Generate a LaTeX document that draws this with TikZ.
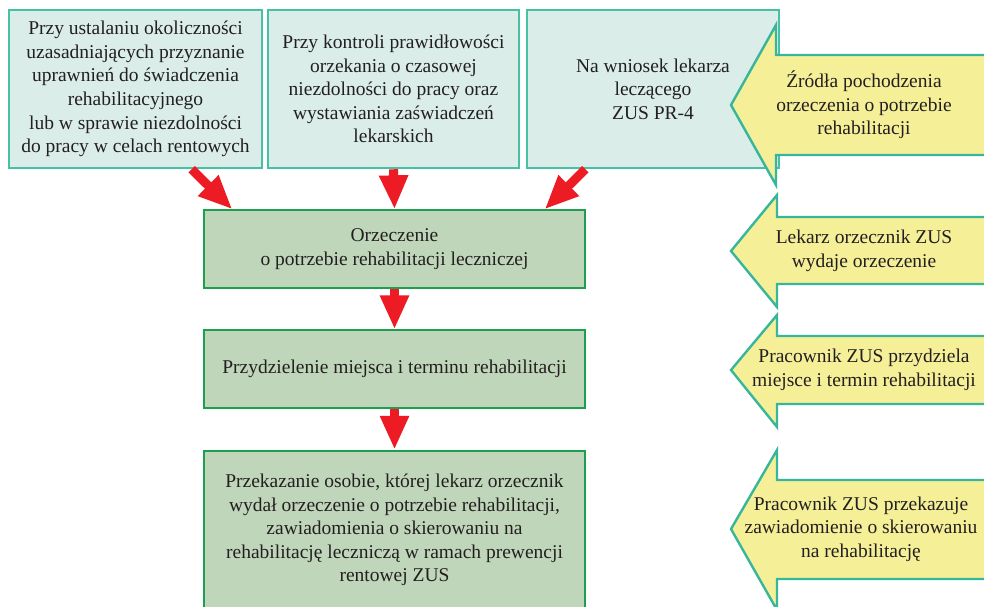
\documentclass[tikz,border=0pt]{standalone}
\usepackage{fontspec}
\setmainfont{Liberation Serif}
\usetikzlibrary{arrows.meta}
\definecolor{tealfill}{RGB}{218,237,232}
\definecolor{tealline}{RGB}{72,192,166}
\definecolor{greenfill}{RGB}{192,214,186}
\definecolor{greenline}{RGB}{28,160,80}
\definecolor{yelfill}{RGB}{245,240,152}
\definecolor{yelline}{RGB}{55,182,156}
\definecolor{redarr}{RGB}{237,28,36}
\definecolor{txt}{RGB}{35,31,32}
\tikzset{
  srcbox/.style={draw=tealline, line width=1.3pt, fill=tealfill, minimum height=158pt, inner sep=0pt, align=center, text=txt, font=\fontsize{19.5}{23.6}\selectfont},
  procbox/.style={draw=greenline, line width=1.3pt, fill=greenfill, minimum width=381pt, inner sep=0pt, align=center, text=txt, font=\fontsize{19.5}{23.6}\selectfont},
  yarrow/.style={draw=yelline, line width=2.4pt, fill=yelfill, line join=miter},
  ytext/.style={align=center, text=txt, inner sep=0pt, font=\fontsize{19.5}{23.6}\selectfont},
  redflow/.style={draw=redarr, line width=9pt, -{Triangle[width=27pt,length=34pt]}}
}
\begin{document}
\begin{tikzpicture}[x=1pt,y=-1pt]
\useasboundingbox (0,0) rectangle (984,606);
\clip (0,0) rectangle (984,606);
\fill[white] (0,0) rectangle (984,606);

\node[srcbox, minimum width=253pt] (b1) at (135.5,89) {Przy ustalaniu okoliczności\\uzasadniających przyznanie\\uprawnień do świadczenia\\rehabilitacyjnego\\lub w sprawie niezdolności\\do pracy w celach rentowych};
\node[srcbox, minimum width=251pt] (b2) at (393.5,89) {Przy kontroli prawidłowości\\orzekania o czasowej\\niezdolności do pracy oraz\\wystawiania zaświadczeń\\lekarskich};
\node[srcbox, minimum width=252pt] (b3) at (653,89) {Na wniosek lekarza\\leczącego\\ZUS PR-4};

\node[procbox, minimum height=78pt] (g1) at (394.5,249) {Orzeczenie\\o potrzebie rehabilitacji leczniczej};
\node[procbox, minimum height=78pt] (g2) at (394.5,369) {Przydzielenie miejsca i terminu rehabilitacji};
\node[procbox, minimum height=162pt] (g3) at (394.5,532) {};
\node[ytext] (g3t) at (394.5,530) {Przekazanie osobie, której lekarz orzecznik\\wydał orzeczenie o potrzebie rehabilitacji,\\zawiadomienia o skierowaniu na\\rehabilitację leczniczą w ramach prewencji\\rentowej ZUS};

\draw[redflow] ([xshift=-71pt,yshift=-0.6pt]b1.south east) -- ([xshift=29pt]g1.north west);
\draw[redflow] ([yshift=-0.6pt]b2.south) -- (g1.north);
\draw[redflow] ([xshift=59pt,yshift=-0.6pt]b3.south west) -- ([xshift=-41pt]g1.north east);
\draw[redflow] ([yshift=-0.6pt]g1.south) -- (g2.north);
\draw[redflow] ([yshift=-0.6pt]g2.south) -- ([yshift=0.6pt]g3.north);

% yellow side arrows
\draw[yarrow] (995,55) -- (776,55) -- (776,25) -- (731,105) -- (776,185) -- (776,155) -- (995,155);
\draw[yarrow] (995,217) -- (777,217) -- (777,195) -- (731,251) -- (777,307) -- (777,284) -- (995,284);
\draw[yarrow] (995,336) -- (777,336) -- (777,315) -- (731,370) -- (777,427) -- (777,404) -- (995,404);
\draw[yarrow] (995,480) -- (777,480) -- (777,450) -- (731,529) -- (777,610) -- (777,579) -- (995,579);

\node[ytext] (y1) at (864,105) {Źródła pochodzenia\\orzeczenia o potrzebie\\rehabilitacji};
\node[ytext] (y2) at (864,251) {Lekarz orzecznik ZUS\\wydaje orzeczenie};
\node[ytext] (y3) at (864,370) {Pracownik ZUS przydziela\\miejsce i termin rehabilitacji};
\node[ytext] (y4) at (861,529) {Pracownik ZUS przekazuje\\zawiadomienie o skierowaniu\\na rehabilitację};
\end{tikzpicture}
\end{document}
